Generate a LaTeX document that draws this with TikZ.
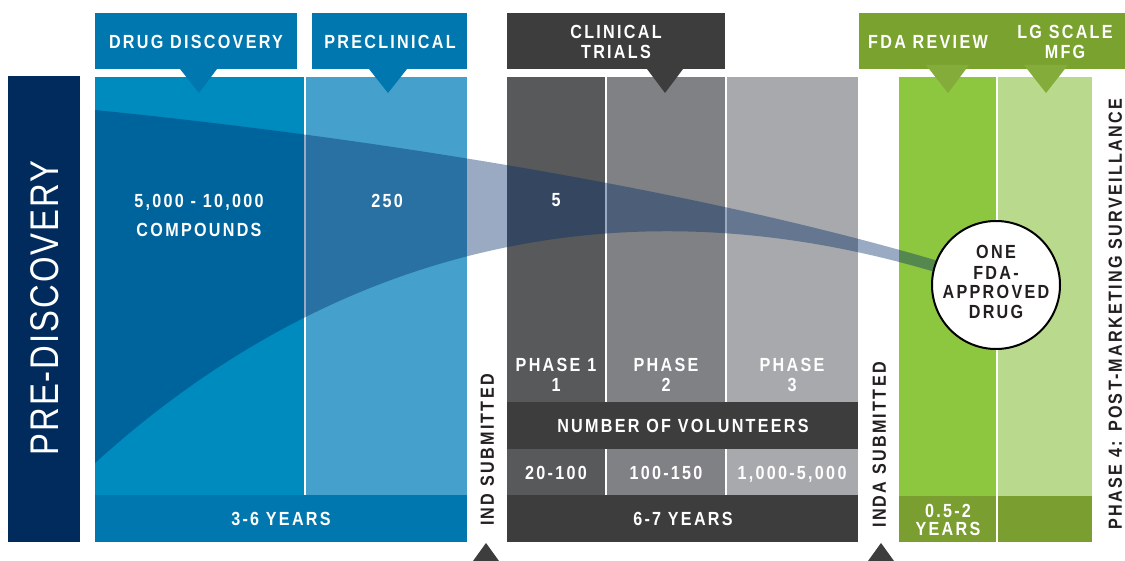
\documentclass[tikz,border=0pt]{standalone}
\usepackage{fontspec}
\setmainfont{Liberation Sans}
\newfontfamily\labfont[FakeStretch=0.85,LetterSpace=12]{Liberation Sans}
\newfontfamily\prefont[FakeStretch=0.82,LetterSpace=5]{Liberation Sans}
\definecolor{navy}{HTML}{002B5C}
\definecolor{hdrblue}{HTML}{0077AE}
\definecolor{ddblue}{HTML}{008BBF}
\definecolor{pcblue}{HTML}{45A1CB}
\definecolor{funnelc}{HTML}{002B68}
\definecolor{clinhdr}{HTML}{3D3D3D}
\definecolor{phone}{HTML}{58595B}
\definecolor{phtwo}{HTML}{808184}
\definecolor{phthree}{HTML}{A7A9AC}
\definecolor{greenhdr}{HTML}{7AA22F}
\definecolor{fdagreen}{HTML}{8DC63F}
\definecolor{lggreen}{HTML}{B9D98C}
\definecolor{greenband}{HTML}{7A9E30}
\definecolor{greentri}{HTML}{84AC3B}
\definecolor{darktext}{HTML}{231F20}
\begin{document}
\begin{tikzpicture}[x=1pt,y=-1pt,
  lab/.style={font=\labfont\bfseries\fontsize{19}{20}\selectfont, text=white, inner sep=0pt, text height=13.6pt, text depth=0pt, anchor=center},
  darklab/.style={lab, text=darktext}]
\useasboundingbox (0,0) rectangle (1125,561);
\fill[white] (0,0) rectangle (1125,561);
% pre-discovery bar
\fill[navy] (8,76) rectangle (80,542);
% headers
\fill[hdrblue] (95,13) rectangle (297,69);
\fill[hdrblue] (312,13) rectangle (467,69);
\fill[clinhdr] (507,13) rectangle (725,69);
\fill[greenhdr] (859,13) rectangle (1125,69);
% blue columns
\fill[ddblue] (95,77) rectangle (304,495);
\fill[pcblue] (305.5,77) rectangle (467,495);
\fill[hdrblue] (95,495) rectangle (467,542);
% grey columns
\fill[phone] (507,77) rectangle (605,495);
\fill[phtwo] (606.5,77) rectangle (725,495);
\fill[phthree] (726.5,77) rectangle (858,495);
\fill[clinhdr] (507,402) rectangle (858,448.5);
\fill[clinhdr] (507,495) rectangle (858,542);
% green columns
\fill[fdagreen] (899,77) rectangle (996,496);
\fill[lggreen] (997.5,77) rectangle (1092,496);
\fill[greenband] (899,496) rectangle (996,542);
\fill[greenband] (997.5,496) rectangle (1092,542);
% funnel
\fill[funnelc, fill opacity=0.4] (95,110) .. controls (375,138) and (700,190) .. (945,263) -- (945,275) .. controls (620,175) and (330,250) .. (95,463) -- cycle;
% pointers
\fill[hdrblue] (180,69) -- (217,69) -- (199,93) -- cycle;
\fill[hdrblue] (369,69) -- (407,69) -- (388,93) -- cycle;
\fill[clinhdr] (647,69) -- (683,69) -- (665,93) -- cycle;
\fill[greentri] (926,65) -- (969,65) -- (948,93) -- cycle;
\fill[greentri] (1024,65) -- (1068,65) -- (1046,93) -- cycle;
\fill[clinhdr] (473,561) -- (499,561) -- (486,543) -- cycle;
\fill[clinhdr] (868,561) -- (894,561) -- (881,543) -- cycle;
% circle
\node[circle, draw=black, line width=2pt, fill=white, minimum size=128pt, inner sep=0pt] (drug) at (996,285) {};
% texts
\node[font=\prefont\fontsize{40}{40}\selectfont, text=white, rotate=90, text height=28.6pt, text depth=0pt, inner sep=0pt] (pre) at (44,308) {PRE-DISCOVERY};
\node[lab] (hdd) at (196,42) {DRUG DISCOVERY};
\node[lab] (hpc) at (390,42) {PRECLINICAL};
\node[lab] (hct1) at (616,32) {CLINICAL};
\node[lab] (hct2) at (616,52) {TRIALS};
\node[lab] (hfda) at (928,42) {FDA REVIEW};
\node[lab] (hlg1) at (1065,32) {LG SCALE};
\node[lab] (hlg2) at (1065,52) {MFG};
\node[lab] (c1) at (199,201) {5,000 - 10,000};
\node[lab] (c2) at (199,230) {COMPOUNDS};
\node[lab] (c3) at (387,201) {250};
\node[lab] (c4) at (556,200) {5};
\node[lab] (p1a) at (556,365) {PHASE 1};
\node[lab] (p1b) at (556,385) {1};
\node[lab] (p2a) at (666,365) {PHASE};
\node[lab] (p2b) at (666,385) {2};
\node[lab] (p3a) at (792,365) {PHASE};
\node[lab] (p3b) at (792,385) {3};
\node[lab] (nv) at (683,426) {NUMBER OF VOLUNTEERS};
\node[lab] (v1) at (556,473) {20-100};
\node[lab] (v2) at (666,473) {100-150};
\node[lab] (v3) at (792,473) {1,000-5,000};
\node[lab] (y67) at (683,519) {6-7 YEARS};
\node[lab] (y36) at (281,519) {3-6 YEARS};
\node[lab] (y05a) at (948,511) {0.5-2};
\node[lab] (y05b) at (948,529) {YEARS};
\node[darklab, rotate=90] (ind) at (487,450) {IND SUBMITTED};
\node[darklab, rotate=90] (inda) at (879,445) {INDA SUBMITTED};
\node[darklab, rotate=90] (ph4) at (1115,314) {PHASE 4: POST-MARKETING SURVEILLANCE};
\node[darklab] (d1) at (996,252) {ONE};
\node[darklab] (d2) at (996,273) {FDA-};
\node[darklab] (d3) at (996,292) {APPROVED};
\node[darklab] (d4) at (996,312) {DRUG};
\end{tikzpicture}
\end{document}
